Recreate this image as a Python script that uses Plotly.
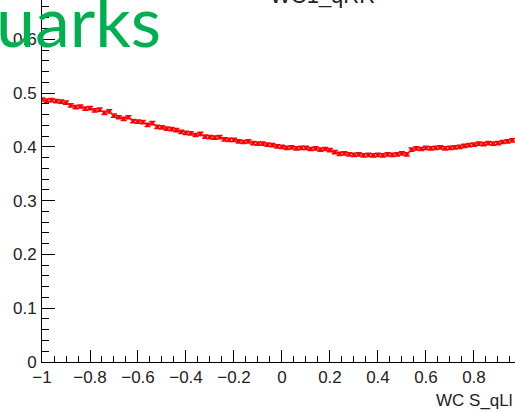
import plotly.graph_objects as go

# bin centres of the histogram (width 0.02)
x_vals = [round(-1.0 + 0.02 * i, 2) for i in range(99)]
y_vals = [
    0.488, 0.486, 0.487, 0.485, 0.484, 0.482, 0.477, 0.474, 0.475, 0.471,
    0.472, 0.468, 0.469, 0.463, 0.466, 0.458, 0.455, 0.452, 0.455, 0.448,
    0.447, 0.446, 0.441, 0.444, 0.437, 0.436, 0.434, 0.433, 0.431, 0.428,
    0.426, 0.425, 0.422, 0.424, 0.419, 0.418, 0.417, 0.418, 0.414, 0.413,
    0.413, 0.410, 0.409, 0.410, 0.407, 0.406, 0.406, 0.404, 0.403, 0.401,
    0.400, 0.398, 0.399, 0.397, 0.398, 0.398, 0.396, 0.397, 0.395, 0.396,
    0.394, 0.390, 0.387, 0.388, 0.386, 0.385, 0.386, 0.384, 0.385, 0.384,
    0.385, 0.384, 0.386, 0.385, 0.386, 0.388, 0.386, 0.395, 0.397, 0.396,
    0.398, 0.397, 0.398, 0.399, 0.397, 0.398, 0.399, 0.400, 0.402, 0.403,
    0.404, 0.406, 0.405, 0.407, 0.406, 0.407, 0.409, 0.410, 0.412,
]

x_tick_vals = [-1, -0.8, -0.6, -0.4, -0.2, 0, 0.2, 0.4, 0.6, 0.8]
x_tick_text = ["\u22121", "\u22120.8", "\u22120.6", "\u22120.4", "\u22120.2", "0", "0.2", "0.4", "0.6", "0.8"]
y_tick_vals = [0, 0.1, 0.2, 0.3, 0.4, 0.5, 0.6]
y_tick_text = ["0", "0.1", "0.2", "0.3", "0.4", "0.5", "0.6"]

title_text = "WC1_qRR"
x_title = "WC S_qLl"
overlay_text = "uarks"

tick_font = dict(family="Liberation Sans, Arial", size=17, color="#222")

fig = go.Figure()
fig.add_trace(go.Scatter(
    x=x_vals, y=y_vals, mode="markers",
    marker=dict(symbol="square", size=3, color="#ff0000", line=dict(width=0)),
    error_y=dict(type="constant", value=0.003, color="#ff0000", thickness=1.5, width=3),
    error_x=dict(type="constant", value=0.008, color="#ff0000", thickness=1.5, width=0),
    showlegend=False, hoverinfo="skip",
))

fig.update_layout(
    width=515, height=412,
    margin=dict(l=42, r=0, t=0, b=50),
    paper_bgcolor="white", plot_bgcolor="white",
    xaxis=dict(
        range=[-1, 0.971], showgrid=False, zeroline=False,
        showline=True, linecolor="black", linewidth=1,
        ticks="inside", ticklen=12, tickcolor="black", tickwidth=1,
        tickvals=x_tick_vals, ticktext=x_tick_text, tickfont=tick_font,
        minor=dict(ticks="inside", ticklen=6, dtick=0.05, tick0=-1, tickcolor="black", showgrid=False),
    ),
    yaxis=dict(
        range=[0, 0.673], showgrid=False, zeroline=False,
        showline=True, linecolor="black", linewidth=1,
        ticks="inside", ticklen=13, tickcolor="black", tickwidth=1,
        tickvals=y_tick_vals, ticktext=y_tick_text, tickfont=tick_font,
        ticklabelstandoff=1,
        minor=dict(ticks="inside", ticklen=7, dtick=0.02, tick0=0, tickcolor="black", showgrid=False),
    ),
    annotations=[
        dict(text=x_title, xref="paper", yref="paper", x=1, y=-0.105,
             xanchor="right", yanchor="middle", showarrow=False,
             font=dict(family="Liberation Sans, Arial", size=17, color="#222")),
        dict(text=title_text, xref="paper", yref="paper", x=0.592, y=1,
             xanchor="center", yanchor="bottom", yshift=-10, showarrow=False,
             font=dict(family="Liberation Sans, Arial", size=22, color="#222")),
        dict(text=overlay_text, xref="paper", yref="paper", x=0, y=1,
             xanchor="left", yanchor="top", xshift=-48, yshift=24, showarrow=False,
             font=dict(family="Lato, Open Sans", size=70, color="#00B050")),
    ],
)

fig.write_html("out.html")
